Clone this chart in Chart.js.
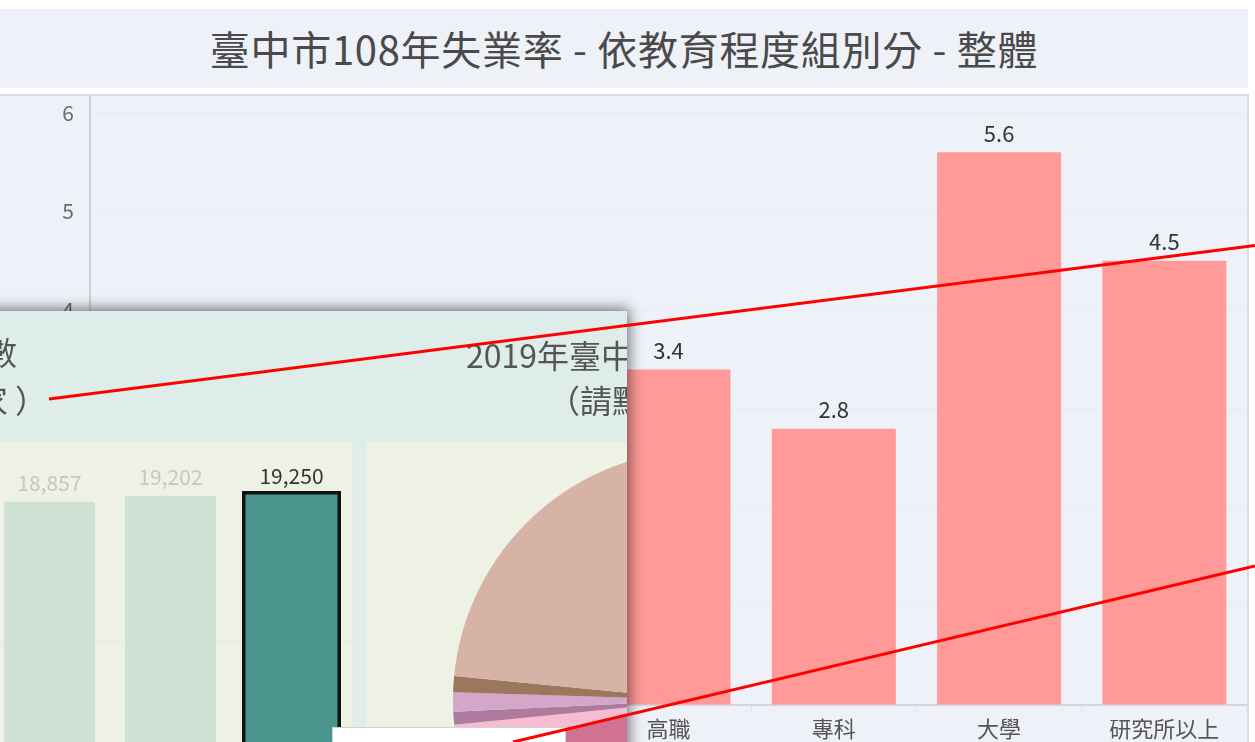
<!DOCTYPE html>
<html>
<head>
<meta charset="utf-8">
<script src="https://cdn.jsdelivr.net/npm/chart.js@4.4.0/dist/chart.umd.min.js"></script>
<style>
  body { margin:0; width:1255px; height:742px; overflow:hidden; position:relative; background:#fff;
         font-family:"Noto Sans CJK TC","Noto Sans",sans-serif; }
  #titleBar { position:absolute; left:0; top:9px; width:1248px; height:79px; background:#eef1f8;
              color:#4a4a4a; font-size:40px; line-height:79px; text-align:center; white-space:nowrap; letter-spacing:0.7px; }
  #card { position:absolute; left:0; top:94px; width:1247px; height:648px; background:#eef1f8;
          border-top:2px solid #d9dce2; border-right:2px solid #d9dce2; }
  #card canvas { position:absolute; left:0; top:0; }
  #popup { position:absolute; left:-300px; top:311px; width:927px; height:460px; background:#deecea;
           box-shadow:0 0 13px 2px rgba(0,0,0,.55); overflow:hidden; }
  .hd { position:absolute; font-size:32px; color:#555; white-space:pre; line-height:32px; }
  #leftPanel { position:absolute; left:0; top:131px; width:652px; height:329px; background:#eef2e4; overflow:hidden; }
  #rightPanel { position:absolute; left:666px; top:131px; width:600px; height:329px; background:#eef2e4; overflow:hidden; }
  #leftPanel canvas, #rightPanel canvas { position:absolute; }
  #tip { position:absolute; left:332px; top:727px; width:232px; height:40px; background:#fff; border:1px solid #d4d4d4; }
  #marks { position:absolute; left:0; top:0; }
</style>
</head>
<body>

<div id="titleBar">臺中市108年失業率 - 依教育程度組別分 - 整體</div>
<div id="card"><canvas id="mainChart" width="1247" height="646"></canvas></div>

<div id="popup">
  <div class="hd" style="right:610px; top:24px;">臺中市歷年工廠登記家數</div>
  <div class="hd" style="right:580px; top:72px;">（單位：家 ）</div>
  <div class="hd" style="left:766px; top:27px;">2019年臺中市工廠行業別</div>
  <div class="hd" style="left:848px; top:72px;">（請點選左側長條圖）</div>
  <div id="leftPanel"><canvas id="yearChart" width="652" height="420" style="left:0; top:0;"></canvas></div>
  <div id="rightPanel"><canvas id="pieChart" width="500" height="500" style="left:87px; top:8px;"></canvas></div>
</div>

<div id="tip"></div>

<svg id="marks" width="1255" height="742">
  <line x1="49" y1="399" x2="1255" y2="245.5" stroke="#ff0000" stroke-width="3"/>
  <line x1="513" y1="742" x2="1255" y2="566" stroke="#ff0000" stroke-width="3"/>
</svg>

<script>
// 主圖: 108年失業率 (依教育程度)
const eduLabels = ['國小及以下', '國中', '高中', '高職', '專科', '大學', '研究所以上'];
const eduRates = [3.2, 3.0, 3.6, 3.4, 2.8, 5.6, 4.5];
const rateTicks = [0, 1, 2, 3, 4, 5, 6];

// 彈出視窗: 歷年工廠家數
const years = ['2015', '2016', '2017', '2018', '2019'];
const factoryCounts = [18210, 18530, 18857, 19202, 19250];
const activeYear = '2019';

// 彈出視窗: 2019 行業別
const industries = ['金屬製品製造業', '機械設備製造業', '塑膠製品製造業', '其他製造業', '食品製造業',
  '紡織業', '化學製品製造業', '橡膠製品製造業', '電子零組件製造業'];
const industryCounts = [5870, 4120, 2576, 1257, 310, 160, 241, 198, 4518];
const industryColors = ['#e9a3ab', '#c98aa9', '#e4b6c1', '#d07291', '#f6bcd0', '#b07a9f', '#d4a6c9', '#9c765d', '#d6b3a5'];

const fontFam = '"Noto Sans CJK TC", "Noto Sans", sans-serif';

// draws the value text above each bar
const barValues = {
  id: 'barValues',
  afterDatasetsDraw(chart, args, opts) {
    const ctx = chart.ctx;
    const meta = chart.getDatasetMeta(0);
    ctx.save();
    ctx.font = opts.size + 'px ' + fontFam;
    ctx.textAlign = 'center';
    ctx.textBaseline = 'middle';
    meta.data.forEach((bar, i) => {
      const v = chart.data.datasets[0].data[i];
      ctx.fillStyle = typeof opts.color === 'function' ? opts.color(i) : opts.color;
      ctx.fillText(opts.format(v), bar.x, bar.y - opts.offset);
    });
    ctx.restore();
  }
};

new Chart(document.getElementById('mainChart'), {
  type: 'bar',
  data: {
    labels: eduLabels,
    datasets: [{
      data: eduRates,
      backgroundColor: '#ff9a98',
      barPercentage: 0.75,
      categoryPercentage: 1
    }]
  },
  options: {
    responsive: false,
    animation: false,
    devicePixelRatio: 1,
    plugins: {
      legend: { display: false },
      tooltip: { enabled: false },
      barValues: { size: 22, color: '#333', offset: 19, format: v => v.toFixed(1) }
    },
    scales: {
      y: {
        min: 0,
        max: 6.17,
        afterBuildTicks: axis => { axis.ticks = rateTicks.map(v => ({ value: v })); },
        afterFit: axis => { axis.width = 90; axis.paddingTop = 0; axis.paddingBottom = 0; },
        ticks: { font: { size: 21, family: fontFam }, color: '#6b6b6b', padding: 16 },
        grid: { color: '#e8ebf1', drawTicks: false },
        border: { color: '#cdd1d7', width: 2 }
      },
      x: {
        afterFit: axis => { axis.height = 37; axis.paddingLeft = 0; axis.paddingRight = 0; },
        ticks: { font: { size: 22, family: fontFam }, color: '#555', padding: 4, maxRotation: 0 },
        grid: { drawOnChartArea: false, tickLength: 6, color: '#dde0e6' },
        border: { color: '#d3d6dc', width: 2 }
      }
    }
  },
  plugins: [barValues]
});

new Chart(document.getElementById('yearChart'), {
  type: 'bar',
  data: {
    labels: years,
    datasets: [{
      data: factoryCounts,
      backgroundColor: years.map(y => y === activeYear ? '#4a968f' : '#d0e2d5'),
      borderColor: '#111',
      borderWidth: years.map(y => y === activeYear ? 3.5 : 0),
      borderSkipped: false,
      inflateAmount: years.map(y => y === activeYear ? 4 : 0),
      barPercentage: 0.752,
      categoryPercentage: 1
    }]
  },
  options: {
    responsive: false,
    animation: false,
    devicePixelRatio: 1,
    layout: { padding: { left: 47, top: 4, right: 0, bottom: 25 } },
    plugins: {
      legend: { display: false },
      tooltip: { enabled: false },
      barValues: {
        size: 21, offset: 19,
        color: i => years[i] === activeYear ? '#333' : '#c3c9bb',
        format: v => v.toLocaleString('en-US')
      }
    },
    scales: {
      x: { display: false },
      y: {
        min: 0, max: 22000,
        ticks: { display: false, stepSize: 10000 },
        grid: { color: '#e6ebdd', drawTicks: false },
        border: { display: false }
      }
    }
  },
  plugins: [barValues]
});

new Chart(document.getElementById('pieChart'), {
  type: 'pie',
  data: {
    labels: industries,
    datasets: [{ data: industryCounts, backgroundColor: industryColors, borderWidth: 0 }]
  },
  options: {
    responsive: false,
    animation: false,
    devicePixelRatio: 1,
    plugins: { legend: { display: false }, tooltip: { enabled: false } }
  }
});
</script>
</body>
</html>
